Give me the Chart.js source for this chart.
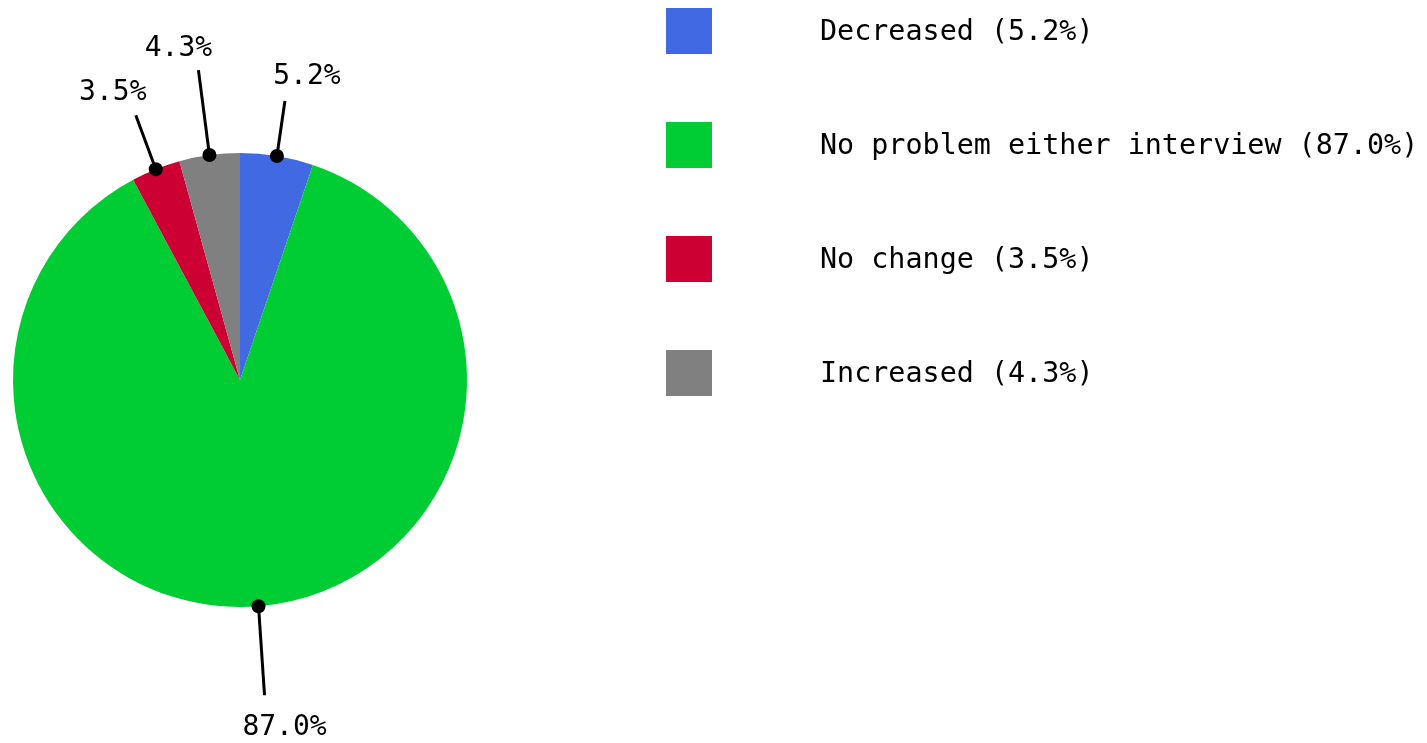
<!DOCTYPE html>
<html lang="en">
<head>
    <meta charset="UTF-8">
    <title>Problem change between interviews</title>
    <script src="https://cdn.jsdelivr.net/npm/chart.js@4.4.3/dist/chart.umd.min.js"></script>
    <style>
        html, body { margin: 0; padding: 0; background: #fff; }
        #wrap { width: 1427px; height: 743px; position: relative; }
    </style>
</head>
<body>
    <div id="wrap"><canvas id="pieChart"></canvas></div>

    <script>
        // data
        const categories = ['Decreased', 'No problem either interview', 'No change', 'Increased'];
        const shares = [5.2, 87.0, 3.5, 4.3];
        const sliceColors = ['#4169e1', '#00cc33', '#cc0033', '#808080'];

        const FONT = '28px "DejaVu Sans Mono", "Liberation Mono", monospace';
        const LEGEND_FONT = '28.4px "DejaVu Sans Mono", "Liberation Mono", monospace';

        // leader line end (relative to dot) and label offset (relative to line end)
        const leaders = [
            { lx: 8, ly: -55, tx: 22, ty: -24 },
            { lx: 6, ly: 89, tx: 20, ty: 32 },
            { lx: -20, ly: -54, tx: -23, ty: -22 },
            { lx: -11, ly: -85, tx: -20, ty: -21 }
        ];

        const pieLabels = {
            id: 'pieLabels',
            afterDatasetsDraw(chart) {
                const ctx = chart.ctx;
                const meta = chart.getDatasetMeta(0);
                ctx.save();
                ctx.fillStyle = '#000';
                ctx.strokeStyle = '#000';
                ctx.lineWidth = 3;
                ctx.font = FONT;
                ctx.textAlign = 'center';
                ctx.textBaseline = 'middle';
                meta.data.forEach((arc, i) => {
                    const p = arc.getProps(['x', 'y', 'startAngle', 'endAngle', 'outerRadius'], true);
                    const mid = (p.startAngle + p.endAngle) / 2;
                    const dx = p.x + Math.cos(mid) * p.outerRadius;
                    const dy = p.y + Math.sin(mid) * p.outerRadius;
                    const L = leaders[i];
                    const ex = dx + L.lx, ey = dy + L.ly;
                    ctx.beginPath();
                    ctx.moveTo(dx, dy);
                    ctx.lineTo(ex, ey);
                    ctx.stroke();
                    ctx.beginPath();
                    ctx.arc(dx, dy, 7, 0, Math.PI * 2);
                    ctx.fill();
                    ctx.fillText(shares[i].toFixed(1) + '%', ex + L.tx, ey + L.ty);
                });
                ctx.restore();
            }
        };

        // legend on the right, drawn on the canvas
        const sideLegend = {
            id: 'sideLegend',
            afterDraw(chart) {
                const ctx = chart.ctx;
                ctx.save();
                ctx.font = LEGEND_FONT;
                ctx.textAlign = 'left';
                ctx.textBaseline = 'middle';
                categories.forEach((name, i) => {
                    const top = 8 + i * 114;
                    ctx.fillStyle = sliceColors[i];
                    ctx.fillRect(666, top, 46, 46);
                    ctx.fillStyle = '#000';
                    ctx.fillText(name + ' (' + shares[i].toFixed(1) + '%)', 820, top + 25);
                });
                ctx.restore();
            }
        };

        new Chart(document.getElementById('pieChart'), {
            type: 'pie',
            data: {
                labels: categories,
                datasets: [{
                    data: shares,
                    backgroundColor: sliceColors,
                    borderWidth: 0
                }]
            },
            options: {
                responsive: true,
                maintainAspectRatio: false,
                animation: false,
                layout: { padding: { left: 13, top: 153, right: 960, bottom: 136 } },
                plugins: {
                    legend: { display: false },
                    tooltip: { enabled: false }
                }
            },
            plugins: [pieLabels, sideLegend]
        });
    </script>
</body>
</html>
